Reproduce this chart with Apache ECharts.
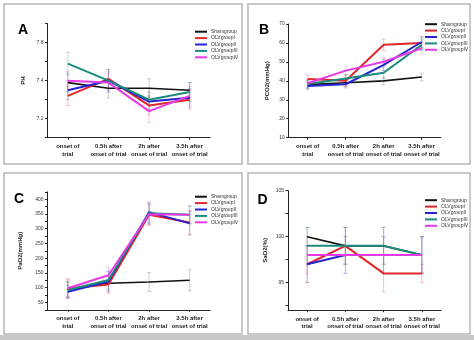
<!DOCTYPE html>
<html>
<head>
<meta charset="utf-8">
<script src="https://cdn.jsdelivr.net/npm/echarts@6/dist/echarts.min.js"></script>
<style>html,body{margin:0;padding:0;background:#fff;}#c{width:474px;height:340px;}</style>
</head>
<body>
<div id="c"></div>
<script>
// ---------- DATA ----------
const categories = ['onset of\ntrial', '0.5h after\nonset of trial', '2h after\nonset of trial', '3.5h after\nonset of trial'];
const groupNames = ['Shamgroup', 'OLVgroupI', 'OLVgroupII', 'OLVgroupIII', 'OLVgroupIV'];

// Panel A: pH
const phMean = [
  [7.39, 7.36, 7.36, 7.35],
  [7.32, 7.41, 7.27, 7.30],
  [7.35, 7.40, 7.29, 7.31],
  [7.49, 7.40, 7.30, 7.34],
  [7.40, 7.39, 7.24, 7.32]
];
const phSD = [
  [0.05, 0.05, 0.05, 0.04],
  [0.05, 0.05, 0.05, 0.05],
  [0.05, 0.05, 0.05, 0.05],
  [0.06, 0.06, 0.06, 0.05],
  [0.05, 0.05, 0.06, 0.05]
];
const phTicks = [7.2, 7.4, 7.6];

// Panel B: PCO2
const pco2Mean = [
  [38, 39, 40, 42],
  [41, 40, 59, 60],
  [37.3, 38.2, 48.4, 60.5],
  [38.3, 41.3, 44.3, 59],
  [38.7, 45.4, 50.1, 57.2]
];
const pco2SD = [
  [2, 2, 2, 2],
  [2, 3, 3, 3],
  [2, 2, 3, 3],
  [2, 2, 3, 3],
  [2, 2, 2, 3]
];
const pco2Ticks = [10, 20, 30, 40, 50, 60, 70];

// Panel C: PaO2
const pao2Mean = [
  [95, 115, 119, 125],
  [97, 111, 347, 321],
  [86, 121, 356, 318],
  [92, 126, 352, 347],
  [98, 142, 349, 347]
];
const pao2SD = [
  [25, 25, 32, 36],
  [30, 30, 35, 40],
  [22, 35, 35, 40],
  [28, 30, 35, 30],
  [33, 28, 35, 30]
];
const pao2Ticks = [50, 100, 150, 200, 250, 300, 350, 400];

// Panel D: SaO2
const sao2Mean = [
  [100, 99, 99, 98],
  [97, 99, 96, 96],
  [97, 98, 98, 98],
  [99, 99, 99, 98],
  [98, 98, 98, 98]
];
const sao2SD = [
  [1, 2, 2, 2],
  [2, 2, 2, 1],
  [2, 2, 2, 2],
  [2, 2, 2, 2],
  [2, 2, 2, 2]
];
const sao2Ticks = [95, 100, 105];

// ---------- STYLE ----------
const colors = ['#111111', '#e0262a', '#2424d0', '#1b8c7c', '#e63ae6'];
const errColors = ['rgba(120,120,120,0.35)', 'rgba(230,80,90,0.35)', 'rgba(90,90,220,0.3)', 'rgba(40,150,130,0.3)', 'rgba(230,80,230,0.3)'];
const FONT = 'Liberation Sans, Arial, sans-serif';

const panels = [
  {letter: 'A', name: 'PH', mean: phMean, sd: phSD, labels: phTicks, min: 7.1, max: 7.7, minor: [7.1,7.2,7.3,7.4,7.5,7.6,7.7],
   grid: {left: 47.5, top: 23.7, width: 162.5, height: 114}, nameGap: 21, legend: {left: 195, top: 29}, letterPos: [23, 31]},
  {letter: 'B', name: 'PCO2(mmHg)', mean: pco2Mean, sd: pco2SD, labels: pco2Ticks, min: 10, max: 70, minor: pco2Ticks,
   grid: {left: 288.7, top: 24, width: 152, height: 113.7}, nameGap: 18, legend: {left: 425, top: 21.5}, letterPos: [264, 31]},
  {letter: 'C', name: 'PaO2(mmHg)', mean: pao2Mean, sd: pao2SD, labels: pao2Ticks, min: 25, max: 425, minor: [25,50,75,100,125,150,175,200,225,250,275,300,325,350,375,400,425],
   grid: {left: 47.5, top: 191.8, width: 162.5, height: 118}, nameGap: 24, legend: {left: 195, top: 194}, letterPos: [19, 200]},
  {letter: 'D', name: 'SaO2(%)', mean: sao2Mean, sd: sao2SD, labels: sao2Ticks, min: 92, max: 105, minor: [92.5,95,97.5,100,102.5,105],
   grid: {left: 288, top: 190.7, width: 153, height: 119.5}, nameGap: 20, legend: {left: 425, top: 197.5}, letterPos: [262.5, 201]}
];

const chart = echarts.init(document.getElementById('c'), null, {renderer: 'canvas'});

const grids = [], xAxes = [], yAxes = [], series = [], legends = [], graphics = [];

// panel frames
const frames = [[4, 4, 238, 160], [248, 4, 222, 160], [4, 173, 238, 161], [248, 173, 222, 161]];
frames.forEach(f => graphics.push({type: 'rect', shape: {x: f[0], y: f[1], width: f[2], height: f[3]},
  style: {fill: null, stroke: '#b8b8b8', lineWidth: 1.5}, z: 100}));
graphics.push({type: 'rect', shape: {x: 0, y: 335, width: 474, height: 5}, style: {fill: '#c9c9c9'}, z: 100});

panels.forEach((p, i) => {
  grids.push(Object.assign({containLabel: false}, p.grid));
  xAxes.push({
    type: 'category', gridIndex: i, data: categories, boundaryGap: true,
    axisLine: {lineStyle: {color: '#222', width: 1}},
    axisTick: {show: true, alignWithLabel: true, length: 2, lineStyle: {color: '#222'}},
    axisLabel: {fontSize: 6, lineHeight: 7.5, fontWeight: 'bold', color: '#222', margin: 5, fontFamily: FONT, interval: 0}
  });
  yAxes.push({
    type: 'value', gridIndex: i, min: p.min, max: p.max,
    name: p.name, nameLocation: 'middle', nameRotate: 90, nameGap: p.nameGap,
    nameTextStyle: {fontSize: 6, fontWeight: 'bold', color: '#222', fontFamily: FONT},
    splitLine: {show: false},
    axisLine: {show: true, lineStyle: {color: '#222', width: 1}},
    axisTick: {show: true, length: 2.5, customValues: p.minor, lineStyle: {color: '#222'}},
    axisLabel: {fontSize: 5, color: '#333', margin: 4, fontFamily: FONT, customValues: p.labels}
  });
  graphics.push({type: 'text', left: p.letterPos[0] - 5, top: p.letterPos[1] - 8,
    style: {text: p.letter, font: 'bold 14px ' + FONT, fill: '#000'}, z: 100});
  legends.push({
    orient: 'vertical', left: p.legend.left, top: p.legend.top, padding: 0, itemGap: 1,
    icon: 'rect', itemWidth: 12, itemHeight: 2, data: groupNames,
    textStyle: {fontSize: 5, lineHeight: 5.4, color: '#333', fontFamily: FONT, padding: [0, 0, 0, -1]},
    selectedMode: false
  });
  // error bars
  p.mean.forEach((m, s) => {
    const errData = m.map((v, k) => [k, v - p.sd[s][k], v + p.sd[s][k]]);
    series.push({
      type: 'custom', xAxisIndex: i, yAxisIndex: i, z: 1, silent: true,
      data: errData,
      renderItem: (params, api) => {
        const lo = api.coord([api.value(0), api.value(1)]);
        const hi = api.coord([api.value(0), api.value(2)]);
        const w = 2;
        return {type: 'group', children: [
          {type: 'line', shape: {x1: lo[0], y1: lo[1], x2: hi[0], y2: hi[1]}, style: {stroke: errColors[s], lineWidth: 1}},
          {type: 'line', shape: {x1: lo[0] - w, y1: lo[1], x2: lo[0] + w, y2: lo[1]}, style: {stroke: errColors[s], lineWidth: 1}},
          {type: 'line', shape: {x1: hi[0] - w, y1: hi[1], x2: hi[0] + w, y2: hi[1]}, style: {stroke: errColors[s], lineWidth: 1}}
        ]};
      }
    });
  });
  p.mean.forEach((m, s) => {
    series.push({
      type: 'line', name: groupNames[s], xAxisIndex: i, yAxisIndex: i, data: m,
      symbol: 'none', z: 3 + s, color: colors[s],
      lineStyle: {width: s === 0 ? 1.6 : 2, color: colors[s]}
    });
  });
});

chart.setOption({
  animation: false,
  backgroundColor: '#fff',
  grid: grids, xAxis: xAxes, yAxis: yAxes, series: series, legend: legends,
  graphic: graphics
});
</script>
</body>
</html>
